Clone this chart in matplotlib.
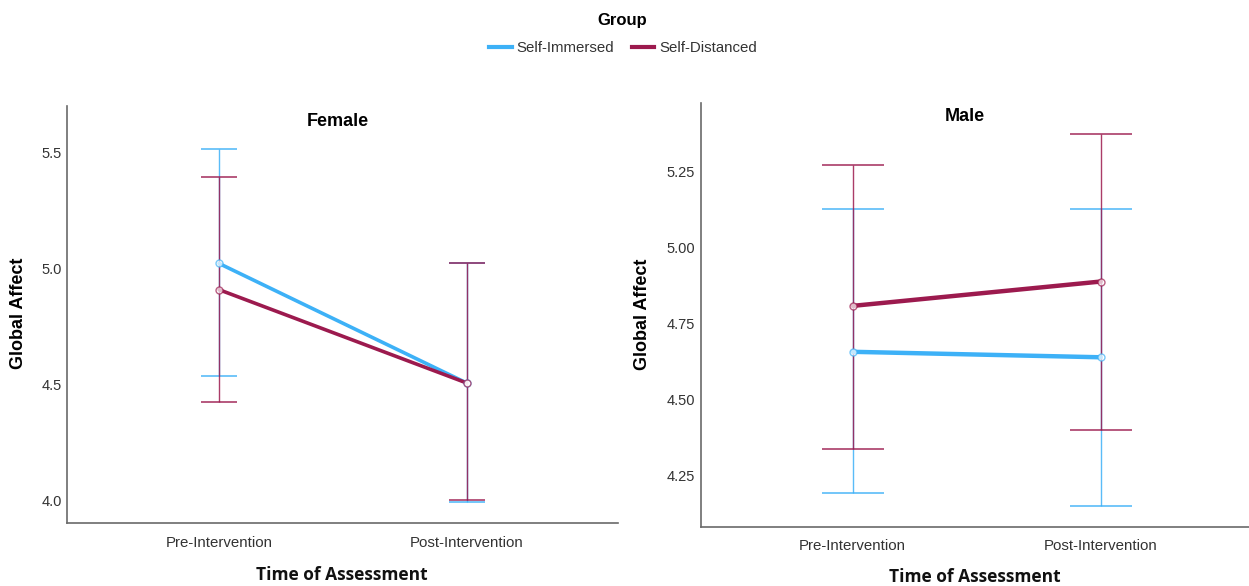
import matplotlib
matplotlib.use("Agg")
import matplotlib.pyplot as plt
from matplotlib.lines import Line2D

# ---- data ----
times = ["Pre-Intervention", "Post-Intervention"]
groups = ["Self-Immersed", "Self-Distanced"]

female_immersed_mean = [5.02, 4.505]
female_immersed_lo = [4.533, 3.99]
female_immersed_hi = [5.515, 5.02]
female_distanced_mean = [4.907, 4.505]
female_distanced_lo = [4.421, 4.00]
female_distanced_hi = [5.394, 5.02]

male_immersed_mean = [4.658, 4.640]
male_immersed_lo = [4.194, 4.151]
male_immersed_hi = [5.126, 5.128]
male_distanced_mean = [4.809, 4.889]
male_distanced_lo = [4.337, 4.400]
male_distanced_hi = [5.272, 5.375]

female_yticks = [4.0, 4.5, 5.0, 5.5]
female_yticklabels = ["4.0", "4.5", "5.0", "5.5"]
male_yticks = [4.25, 4.50, 4.75, 5.00, 5.25]
male_yticklabels = ["4.25", "4.50", "4.75", "5.00", "5.25"]

BLUE = "#3DB1F7"
MAROON = "#9C1A4E"
SANS = ["Liberation Sans", "DejaVu Sans"]
OPEN = ["Open Sans", "DejaVu Sans"]

fig = plt.figure(figsize=(12.49, 5.86), dpi=100)
W, H = 1249.0, 586.0

def px_axes(x0, x1, ytop, ybot):
    return fig.add_axes([x0 / W, 1 - ybot / H, (x1 - x0) / W, (ybot - ytop) / H])

axL = px_axes(67.3, 618.3, 105.7, 523.3)
axR = px_axes(700.7, 1252.7, 103.3, 526.7)

def draw(ax, series, ylim, yticks, yticklabels, capsize, lw):
    xs = list(range(len(times)))
    for mean, lo, hi, color in series:
        yerr = [[m - l for m, l in zip(mean, lo)], [h - m for m, h in zip(mean, hi)]]
        ax.errorbar(xs, mean, yerr=yerr, fmt="none", ecolor=color, elinewidth=1.0,
                    capsize=capsize, capthick=1.2, alpha=0.85, zorder=2)
    for mean, lo, hi, color in series:
        ax.plot(xs, mean, color=color, lw=lw, solid_capstyle="round", zorder=3)
        ax.plot(xs, mean, ls="none", marker="o", ms=5, mfc="white", mec=color,
                mew=1.0, alpha=0.7, zorder=4)
    ax.set_xlim(-0.613, 1.613)
    ax.set_ylim(*ylim)
    ax.set_xticks(xs)
    ax.set_xticklabels(times, fontsize=10.8, color="#333333", family=SANS)
    ax.set_yticks(yticks)
    ax.set_yticklabels(yticklabels, fontsize=10.5, color="#333333", family=SANS)
    ax.tick_params(axis="both", length=0)
    ax.tick_params(axis="x", pad=9)
    ax.tick_params(axis="y", pad=4)
    for s in ["top", "right"]:
        ax.spines[s].set_visible(False)
    for s in ["left", "bottom"]:
        ax.spines[s].set_color("#6a6a6a")
        ax.spines[s].set_linewidth(1.2)
    ax.set_ylabel("Global Affect", fontsize=13, fontweight="bold", family=SANS,
                  va="center")
    ax.set_xlabel("Time of Assessment", fontsize=12.5, fontweight="bold", family=OPEN,
                  color="#111111", va="center")

draw(axL,
     [(female_immersed_mean, female_immersed_lo, female_immersed_hi, BLUE),
      (female_distanced_mean, female_distanced_lo, female_distanced_hi, MAROON)],
     (3.9, 5.7), female_yticks, female_yticklabels, 13.2, 2.6)
draw(axR,
     [(male_immersed_mean, male_immersed_lo, male_immersed_hi, BLUE),
      (male_distanced_mean, male_distanced_lo, male_distanced_hi, MAROON)],
     (4.083, 5.475), male_yticks, male_yticklabels, 22.4, 3.2)

axL.yaxis.set_label_coords(-(67.3 - 19) / 551.0, (523.3 - 313) / 417.6)
axR.yaxis.set_label_coords(-(700.7 - 643) / 552.0, (526.7 - 314) / 423.4)
axL.xaxis.set_label_coords((342 - 67.3) / 551.0, -(575 - 523.3) / 417.6)
axR.xaxis.set_label_coords((975 - 700.7) / 552.0, -(577 - 526.7) / 423.4)

fig.text(337.5 / W, 1 - 121 / H, "Female", ha="center", va="center", fontsize=13,
         fontweight="bold", family=SANS)
fig.text(964.5 / W, 1 - 116 / H, "Male", ha="center", va="center", fontsize=13,
         fontweight="bold", family=SANS)

fig.text(622 / W, 1 - 21 / H, "Group", ha="center", va="center", fontsize=12,
         fontweight="bold", family=SANS)
handles = [Line2D([], [], color=BLUE, lw=3), Line2D([], [], color=MAROON, lw=3)]
leg = fig.legend(handles, groups, loc="center", bbox_to_anchor=(623 / W, 1 - 48 / H),
                 ncol=2, frameon=False,
                 prop={"family": SANS, "size": 10.8},
                 handlelength=1.5, handletextpad=0.3, columnspacing=1.2, borderpad=0.2)
for t in leg.get_texts():
    t.set_color("#333333")

fig.savefig("out.png", dpi=100)
